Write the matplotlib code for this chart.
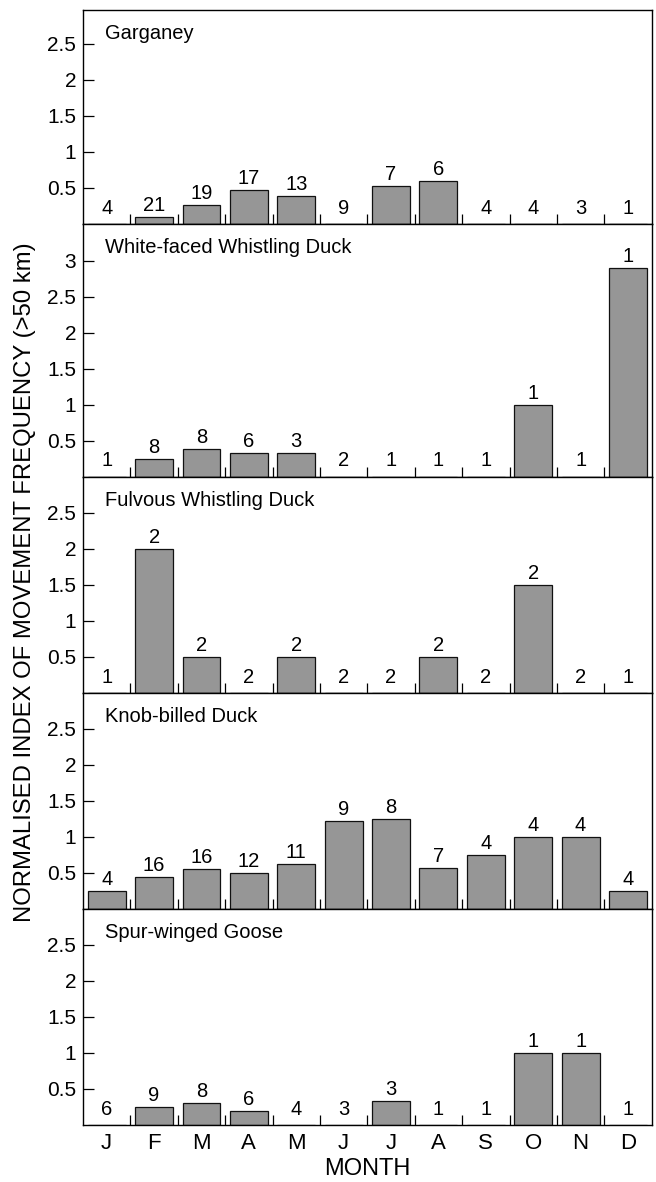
import numpy as np
import matplotlib
matplotlib.use("Agg")
import matplotlib.pyplot as plt

plt.rcParams['font.family'] = ['Liberation Sans', 'DejaVu Sans']

months = ['J', 'F', 'M', 'A', 'M', 'J', 'J', 'A', 'S', 'O', 'N', 'D']

species = ['Garganey', 'White-faced Whistling Duck', 'Fulvous Whistling Duck',
           'Knob-billed Duck', 'Spur-winged Goose']

garganey = [0, 0.1, 0.26, 0.47, 0.39, 0, 0.53, 0.59, 0, 0, 0, 0]
garganey_n = [4, 21, 19, 17, 13, 9, 7, 6, 4, 4, 3, 1]

whitefaced = [0, 0.25, 0.38, 0.33, 0.33, 0, 0, 0, 0, 1.0, 0, 2.9]
whitefaced_n = [1, 8, 8, 6, 3, 2, 1, 1, 1, 1, 1, 1]

fulvous = [0, 2.0, 0.5, 0, 0.5, 0, 0, 0.5, 0, 1.5, 0, 0]
fulvous_n = [1, 2, 2, 2, 2, 2, 2, 2, 2, 2, 2, 1]

knobbilled = [0.25, 0.44, 0.56, 0.5, 0.63, 1.22, 1.25, 0.57, 0.75, 1.0, 1.0, 0.25]
knobbilled_n = [4, 16, 16, 12, 11, 9, 8, 7, 4, 4, 4, 4]

spurwinged = [0, 0.25, 0.3, 0.2, 0, 0, 0.33, 0, 0, 1.0, 1.0, 0]
spurwinged_n = [6, 9, 8, 6, 4, 3, 3, 1, 1, 1, 1, 1]

values = [garganey, whitefaced, fulvous, knobbilled, spurwinged]
counts = [garganey_n, whitefaced_n, fulvous_n, knobbilled_n, spurwinged_n]
ytop = [2.97, 3.51, 3.0, 3.0, 3.0]
yticks = [[0.5, 1, 1.5, 2, 2.5], [0.5, 1, 1.5, 2, 2.5, 3],
          [0.5, 1, 1.5, 2, 2.5], [0.5, 1, 1.5, 2, 2.5], [0.5, 1, 1.5, 2, 2.5]]

fig = plt.figure(figsize=(6.56, 11.82), dpi=100)
gs = fig.add_gridspec(5, 1, height_ratios=ytop, hspace=0,
                      left=83/656, right=651.7/656, top=1-10/1182, bottom=1-1125/1182)

x = np.arange(12)
for k in range(5):
    ax = fig.add_subplot(gs[k])
    v = values[k]
    ax.bar(x, v, width=0.8, color='#969696', edgecolor='#111111', linewidth=0.9)
    # sample sizes above each month
    for i in range(12):
        ax.annotate(str(counts[k][i]), xy=(i, max(v[i], 0.06)), xytext=(0, 6),
                    textcoords='offset pixels', ha='center', va='baseline', fontsize=14.5)
    ax.set_xlim(-0.5, 11.5)
    ax.set_ylim(0, ytop[k])
    ax.set_yticks(yticks[k])
    ax.set_yticklabels([('%g' % t) for t in yticks[k]])
    ax.set_xticks(x)
    ax.set_xticks(np.arange(0.5, 11, 1), minor=True)
    ax.tick_params(axis='y', direction='in', length=8, width=0.9, labelsize=15, pad=5)
    ax.tick_params(axis='x', which='major', length=0, labelsize=16, pad=6)
    ax.tick_params(axis='x', which='minor', direction='in', length=7, width=0.9)
    if k < 4:
        ax.set_xticklabels([])
    else:
        ax.set_xticklabels(months)
    for s in ax.spines.values():
        s.set_linewidth(1.0)
    ax.annotate(species[k], xy=(0, 1), xycoords='axes fraction', xytext=(22, -29),
                textcoords='offset pixels', ha='left', va='baseline', fontsize=14.5)

fig.text(367/656, 1-1175/1182, 'MONTH', ha='center', va='baseline', fontsize=17)
fig.text(25/656, 1-582/1182, 'NORMALISED INDEX OF MOVEMENT FREQUENCY (>50 km)',
         rotation=90, ha='center', va='center', fontsize=17.2)

fig.savefig('out.png', dpi=100)
